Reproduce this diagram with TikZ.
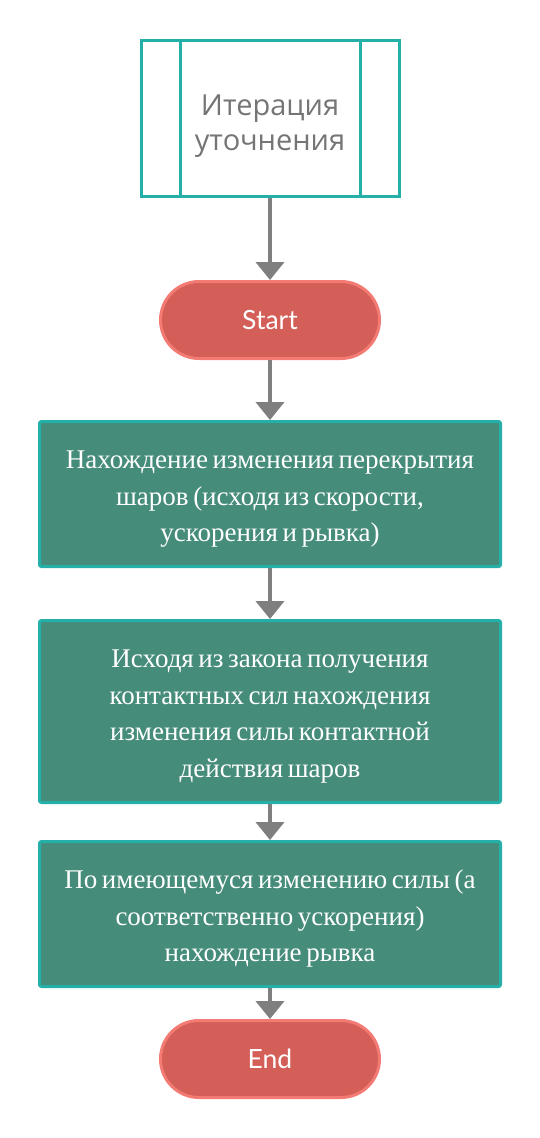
\documentclass[tikz,border=0pt]{standalone}
\usepackage{fontspec}
\setmainfont{Liberation Serif}
\newfontfamily\opensans{Open Sans}
\newfontfamily\lato{Lato}
\usetikzlibrary{arrows.meta,shapes.misc}
\definecolor{tealb}{HTML}{24AFA8}
\definecolor{greenf}{HTML}{468C7A}
\definecolor{redf}{HTML}{D35F58}
\definecolor{redb}{HTML}{F47A74}
\definecolor{arrowc}{HTML}{7F7F7F}
\definecolor{subtext}{HTML}{757575}
\newcommand\topstrut{\spaceskip=0.17em\relax\rule{0pt}{28pt}}
\newcommand\substrut{\rule{0pt}{35pt}}
\tikzset{
  subproc/.style={draw=tealb, line width=3pt, fill=white, minimum width=258pt, minimum height=156pt, inner sep=0pt, align=center, text=subtext, font=\opensans\fontsize{29}{35}\selectfont},
  term/.style={rounded rectangle, draw=redb, fill=redf, line width=3pt, minimum width=219pt, minimum height=77pt, inner sep=0pt, text=white, font=\lato\fontsize{26.5}{30}\selectfont},
  procbox/.style={draw=tealb, fill=greenf, line width=3pt, rounded corners=2pt, minimum width=461pt, inner sep=0pt, text width=455pt, align=center, text=white, font=\fontsize{27}{36.5}\selectfont},
  flow/.style={draw=arrowc, line width=4pt, -{Triangle[width=28pt,length=18pt]}}
}
\begin{document}
\begin{tikzpicture}[x=1pt,y=-1pt]
\useasboundingbox (0,0) rectangle (540,1138);
\node[subproc] (sub) at (270,118.5) {\substrut Итерация\\уточнения};
\draw[tealb, line width=3pt] (180,40.5) -- (180,196.5) (360,40.5) -- (360,196.5);
\node[term] (start) at (270,320) {Start};
\node[procbox, minimum height=145pt] (p1) at (270,494) {\topstrut Нахождение изменения перекрытия\\шаров (исходя из скорости,\\ускорения и рывка)};
\node[procbox, minimum height=182pt] (p2) at (270,711.5) {\topstrut Исходя из закона получения\\контактных сил нахождения\\изменения силы контактной\\действия шаров};
\node[procbox, minimum height=145pt] (p3) at (270,914) {\topstrut По имеющемуся изменению силы (а\\соответственно ускорения)\\нахождение рывка};
\node[term] (end) at (270,1059) {End};
\draw[flow] (sub.south) -- (start.north);
\draw[flow] (start.south) -- (p1.north);
\draw[flow] (p1.south) -- (p2.north);
\draw[flow] (p2.south) -- (p3.north);
\draw[flow] (p3.south) -- (end.north);
\end{tikzpicture}
\end{document}
